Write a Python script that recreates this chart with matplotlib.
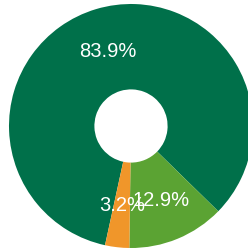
import matplotlib
matplotlib.use("Agg")
import matplotlib.pyplot as plt

labels = ["A", "B", "C"]
values = [83.9, 12.9, 3.2]
colors = ["#00704A", "#5BA333", "#F0962A"]

W, H = 248, 253
fig = plt.figure(figsize=(W / 100, H / 100), dpi=100)
cx, cy, r = 131, 127, 122
ax = fig.add_axes([(cx - r) / W, (H - cy - r) / H, 2 * r / W, 2 * r / H])
wedges, texts, autotexts = ax.pie(
    values,
    colors=colors,
    startangle=-102.3,
    counterclock=False,
    radius=1,
    autopct="%.1f%%",
    pctdistance=0.65,
    wedgeprops=dict(width=0.7, linewidth=0),
    textprops=dict(color="white", fontsize=14.5, family="Liberation Sans"),
)
ax.set_xlim(-1, 1)
ax.set_ylim(-1, 1)
ax.set_aspect("equal")
ax.axis("off")
fig.savefig("out.png", dpi=100)
